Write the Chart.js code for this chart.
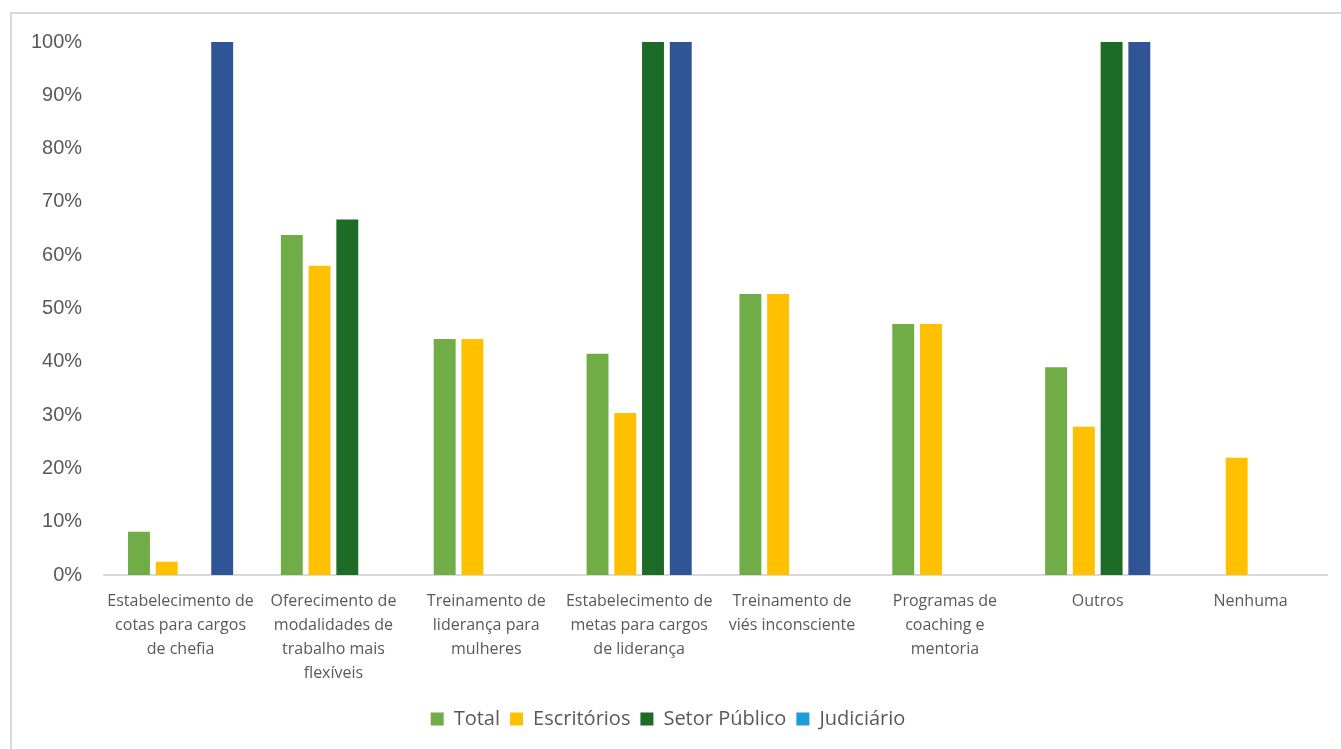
<!DOCTYPE html>
<html>
<head>
<meta charset="utf-8">
<script src="https://cdn.jsdelivr.net/npm/chart.js@4"></script>
<style>
  html, body { margin: 0; padding: 0; background: #fff; overflow: hidden; }
  #frame {
    position: absolute; left: 10px; top: 12px;
    width: 1340px; height: 745px;
    border: 2px solid #d9d9d9; box-sizing: border-box;
  }
  #chart { position: absolute; left: 0; top: 0; }
</style>
</head>
<body>
<div id="frame"></div>
<canvas id="chart" width="1341" height="749"></canvas>
<script>
// Categories (wrapped as in the original)
const categories = [
    ['Estabelecimento de', 'cotas para cargos', 'de chefia'],
    ['Oferecimento de', 'modalidades de', 'trabalho mais', 'flexíveis'],
    ['Treinamento de', 'liderança para', 'mulheres'],
    ['Estabelecimento de', 'metas para cargos', 'de liderança'],
    ['Treinamento de', 'viés inconsciente'],
    ['Programas de', 'coaching e', 'mentoria'],
    ['Outros'],
    ['Nenhuma']
];

// Series values (%)
const totalValues       = [8.1, 63.8, 44.3, 41.5, 52.7, 47.1, 39.0, null];
const escritoriosValues = [2.5, 58.0, 44.3, 30.4, 52.7, 47.1, 27.8, 22.0];
const setorValues       = [null, 66.7, null, 100, null, null, 100, null];
const judiciarioValues  = [100, null, null, 100, null, null, 100, null];

const yTicks = [0, 10, 20, 30, 40, 50, 60, 70, 80, 90, 100];

const colors = {
    total: '#70AD47',
    escritorios: '#FFC000',
    setor: '#1C6B26',
    judiciario: '#2F5597',
    judiciarioLegend: '#1A9DD8'
};

const ctx = document.getElementById('chart').getContext('2d');
new Chart(ctx, {
    type: 'bar',
    data: {
        labels: categories,
        datasets: [
            { label: 'Total', data: totalValues, backgroundColor: colors.total },
            { label: 'Escritórios', data: escritoriosValues, backgroundColor: colors.escritorios },
            { label: 'Setor Público', data: setorValues, backgroundColor: colors.setor },
            { label: 'Judiciário', data: judiciarioValues, backgroundColor: colors.judiciario }
        ]
    },
    options: {
        responsive: false,
        animation: false,
        layout: { padding: { left: 9, right: 14, top: 42, bottom: 10 } },
        datasets: {
            bar: { categoryPercentage: 0.726, barPercentage: 0.79 }
        },
        scales: {
            x: {
                grid: { display: false, drawTicks: false },
                border: { color: '#d9d9d9', width: 2 },
                ticks: {
                    color: '#595959',
                    font: { family: 'Open Sans', size: 16, lineHeight: 1.5 },
                    padding: 14,
                    maxRotation: 0,
                    autoSkip: false
                }
            },
            y: {
                min: 0,
                max: 100,
                afterBuildTicks: axis => { axis.ticks = yTicks.map(v => ({ value: v })); },
                grid: { display: false, drawTicks: false },
                border: { display: false },
                ticks: {
                    color: '#595959',
                    font: { family: 'Liberation Sans', size: 20 },
                    padding: 22,
                    callback: value => value + '%'
                }
            }
        },
        plugins: {
            legend: {
                position: 'bottom',
                labels: {
                    color: '#595959',
                    font: { family: 'Open Sans', size: 20, lineHeight: 1 },
                    boxWidth: 13,
                    boxHeight: 13,
                    padding: 10,
                    generateLabels: chart => {
                        const items = Chart.defaults.plugins.legend.labels.generateLabels(chart);
                        items.forEach(item => {
                            if (item.text === 'Judiciário') {
                                item.fillStyle = colors.judiciarioLegend;
                                item.strokeStyle = colors.judiciarioLegend;
                            }
                            item.lineWidth = 0;
                        });
                        return items;
                    }
                }
            },
            tooltip: { enabled: false }
        }
    }
});
</script>
</body>
</html>
